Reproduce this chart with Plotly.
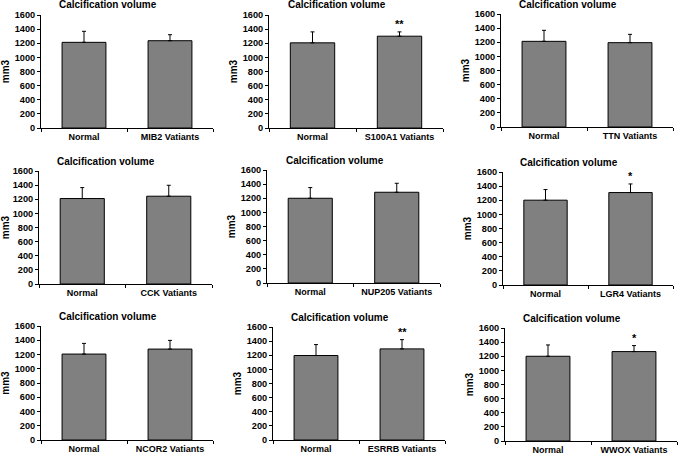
import plotly.graph_objects as go

# ---- data ----
genes = ["MIB2", "S100A1", "TTN", "CCK", "NUP205", "LGR4", "NCOR2", "ESRRB", "WWOX"]
normal_mean = [1213, 1206, 1213, 1210, 1200, 1201, 1206, 1196, 1200]
normal_sd = [156, 155, 156, 155, 151, 150, 150, 155, 160]
variant_mean = [1236, 1300, 1194, 1243, 1285, 1309, 1276, 1290, 1266]
variant_sd = [85, 61, 118, 155, 127, 122, 122, 131, 85]
significance = ["", "**", "", "", "", "*", "", "**", "*"]
title_text = "Calcification volume"
y_label = "mm3"
y_ticks = [0, 200, 400, 600, 800, 1000, 1200, 1400, 1600]

# ---- layout geometry (pixels) ----
W, H = 685, 456
panels_px = [  # x0, x1, ytop, ybottom
    (41, 213, 15, 128), (269, 443, 15, 128), (501, 673, 14, 127),
    (39, 212, 171, 284), (267, 440, 170, 283), (503, 673, 172, 285),
    (41, 213, 326, 440), (273, 445, 327, 440), (505, 677, 328, 441),
]

FONT = "Liberation Sans, Arial, sans-serif"
fig = go.Figure()
layout = dict(
    width=W, height=H, margin=dict(l=0, r=0, t=0, b=0),
    paper_bgcolor="white", plot_bgcolor="white", showlegend=False,
    font=dict(family=FONT, color="black"),
    bargap=0.49,
)
annotations = []

for i, g in enumerate(genes):
    n = i + 1
    xa = "x" if n == 1 else f"x{n}"
    ya = "y" if n == 1 else f"y{n}"
    cats = ["Normal", f"{g} Vatiants"]
    means = [normal_mean[i], variant_mean[i]]
    sds = [normal_sd[i], variant_sd[i]]
    fig.add_trace(go.Bar(
        x=cats, y=means, xaxis=xa, yaxis=ya,
        marker=dict(color="#808080", line=dict(color="black", width=1)),
        error_y=dict(type="data", array=sds, arrayminus=[0, 0], symmetric=False,
                     color="black", thickness=1, width=2),
        hoverinfo="skip",
    ))
    x0, x1, yt, yb = panels_px[i]
    xd = [x0 / W, x1 / W]
    yd = [1 - yb / H, 1 - yt / H]
    layout["xaxis" if n == 1 else f"xaxis{n}"] = dict(
        domain=xd, anchor=ya, type="category", tickson="boundaries",
        showline=True, linecolor="black", linewidth=1,
        ticks="outside", ticklen=3, tickcolor="black",
        tickfont=dict(size=9, family=FONT, color="black", weight="bold"),
        showgrid=False, zeroline=False, fixedrange=True, automargin=False,
    )
    layout["yaxis" if n == 1 else f"yaxis{n}"] = dict(
        domain=yd, anchor=xa, range=[0, 1600], tickvals=y_ticks,
        showline=True, linecolor="black", linewidth=1,
        ticks="outside", ticklen=3, tickcolor="black",
        tickfont=dict(size=9.2, family=FONT, color="black", weight="bold"),
        showgrid=False, zeroline=False, fixedrange=True, automargin=False,
        title=dict(text=y_label, standoff=3,
                   font=dict(size=10, family=FONT, color="black", weight="bold")),
    )
    # panel title
    annotations.append(dict(
        text=f"<b>{title_text}</b>", xref="paper", yref="paper",
        x=((x0 + x1) / 2 - 19) / W, y=1 - (yt - 10) / H,
        xanchor="center", yanchor="middle", showarrow=False,
        font=dict(size=10, family=FONT, color="black"),
    ))
    if significance[i]:
        annotations.append(dict(
            text=f"<b>{significance[i]}</b>", xref=xa, yref=ya,
            x=cats[1], y=variant_mean[i] + variant_sd[i],
            xanchor="center", yanchor="bottom", yshift=0, showarrow=False,
            font=dict(size=11, family=FONT, color="black"),
        ))

layout["annotations"] = annotations
fig.update_layout(**layout)
fig.write_html("out.html", config={"displayModeBar": False})

# remove default page margin so the figure sits at the window's top-left
with open("out.html", "r", encoding="utf-8") as f:
    html = f.read()
html = html.replace("<body>", '<body style="margin:0;padding:0;overflow:hidden">', 1)
with open("out.html", "w", encoding="utf-8") as f:
    f.write(html)
